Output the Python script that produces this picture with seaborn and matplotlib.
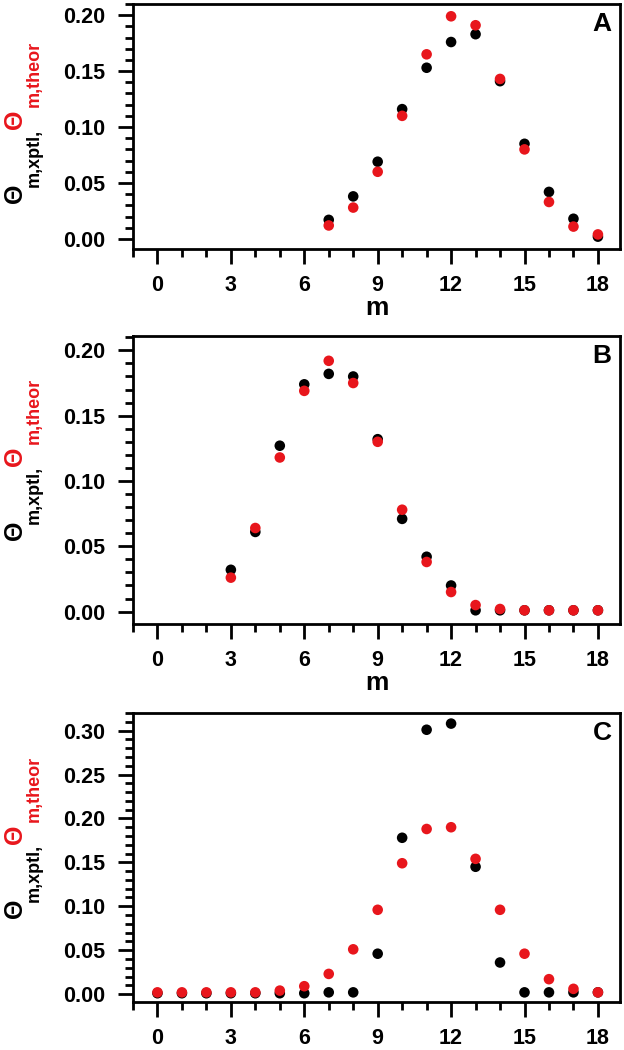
import numpy as np
import pandas as pd
import seaborn as sns
import matplotlib.pyplot as plt
from matplotlib.ticker import MultipleLocator
from matplotlib.transforms import IdentityTransform

# values
m_a = [7, 8, 9, 10, 11, 12, 13, 14, 15, 16, 17, 18]
xptl_a = [0.017, 0.038, 0.069, 0.116, 0.153, 0.176, 0.183, 0.141, 0.085, 0.042, 0.018, 0.002]
theor_a = [0.012, 0.028, 0.060, 0.110, 0.165, 0.199, 0.191, 0.143, 0.080, 0.033, 0.011, 0.004]

m_b = [3, 4, 5, 6, 7, 8, 9, 10, 11, 12, 13, 14, 15, 16, 17, 18]
xptl_b = [0.032, 0.061, 0.127, 0.174, 0.182, 0.180, 0.132, 0.071, 0.042, 0.020, 0.001, 0.001,
          0.001, 0.001, 0.001, 0.001]
theor_b = [0.026, 0.064, 0.118, 0.169, 0.192, 0.175, 0.130, 0.078, 0.038, 0.015, 0.005, 0.002,
           0.001, 0.001, 0.001, 0.001]

m_c = list(range(0, 19))
xptl_c = [0.001, 0.001, 0.001, 0.001, 0.001, 0.001, 0.001, 0.002, 0.002, 0.046, 0.178, 0.301,
          0.308, 0.145, 0.036, 0.002, 0.002, 0.002, 0.002]
theor_c = [0.002, 0.002, 0.002, 0.002, 0.002, 0.004, 0.009, 0.023, 0.051, 0.096, 0.149, 0.188,
           0.190, 0.154, 0.096, 0.046, 0.017, 0.006, 0.002]

panels = [
    ('A', m_a, xptl_a, theor_a, (-0.009, 0.21), True),
    ('B', m_b, xptl_b, theor_b, (-0.0095, 0.211), True),
    ('C', m_c, xptl_c, theor_c, (-0.009, 0.32), False),
]

# axes boxes in figure fractions [left, bottom, width, height]
boxes = [
    [0.2131, 0.7629, 0.7804, 0.2333],
    [0.2131, 0.4057, 0.7804, 0.2743],
    [0.2131, 0.0457, 0.7804, 0.2752],
]
# pixel (from top) of the black theta in each y label
label_y = [193, 530, 908]

RED = '#e8161c'

sns.set_style('ticks')
plt.rcParams['font.family'] = ['Liberation Sans', 'DejaVu Sans']
plt.rcParams['font.weight'] = 'bold'
plt.rcParams['axes.linewidth'] = 2.0
for key in ['text.color', 'axes.labelcolor', 'xtick.color', 'ytick.color', 'axes.edgecolor']:
    plt.rcParams[key] = 'black'

fig = plt.figure(figsize=(6.24, 10.5), dpi=100)

for (name, m, xptl, theor, ylim, show_m), box, ly in zip(panels, boxes, label_y):
    ax = fig.add_axes(box)
    df = pd.concat([
        pd.DataFrame({'m': m, 'value': xptl, 'series': 'xptl'}),
        pd.DataFrame({'m': m, 'value': theor, 'series': 'theor'}),
    ])
    sns.scatterplot(data=df, x='m', y='value', hue='series',
                    palette={'xptl': 'black', 'theor': RED},
                    s=58, linewidth=0, legend=False, ax=ax, zorder=3)

    ax.set_xlim(-1, 18.9)
    ax.set_ylim(*ylim)
    ax.xaxis.set_major_locator(MultipleLocator(3))
    ax.xaxis.set_minor_locator(MultipleLocator(1))
    ax.yaxis.set_major_locator(MultipleLocator(0.05))
    ax.yaxis.set_minor_locator(MultipleLocator(0.01))
    ax.yaxis.set_major_formatter(plt.FormatStrFormatter('%.2f'))
    ax.tick_params(which='major', length=11, width=2, labelsize=15.5, direction='out')
    ax.tick_params(which='minor', length=6, width=2, direction='out')
    ax.tick_params(axis='x', which='major', pad=8)
    ax.tick_params(axis='y', which='major', pad=9)
    for lab in ax.get_xticklabels() + ax.get_yticklabels():
        lab.set_fontweight('bold')
    for sp in ax.spines.values():
        sp.set_linewidth(2.0)
        sp.set_visible(True)

    ax.set_ylabel('')
    if show_m:
        ax.set_xlabel('m', fontsize=19, fontweight='bold', labelpad=0)
    else:
        ax.set_xlabel('')

    ax.annotate(name, xy=(1, 1), xycoords='axes fraction', xytext=(-6, -6),
                textcoords='offset points', ha='right', va='top',
                fontsize=19, fontweight='bold')

    # two-colour y label, drawn piece by piece in pixel coordinates
    y0 = 1050 - ly
    pieces = [
        ('\u0398', 15, y0, 18, 'black'),
        ('m,xptl,', 34, y0 + 35, 13, 'black'),
        ('\u0398', 15, y0 + 74, 18, RED),
        ('m,theor', 34, y0 + 119, 13, RED),
    ]
    for txt, px, py, fs, col in pieces:
        fig.text(px, py, txt, transform=IdentityTransform(), rotation=90,
                 ha='center', va='center', fontsize=fs, fontweight='bold', color=col)

fig.savefig('out.png', dpi=100)
